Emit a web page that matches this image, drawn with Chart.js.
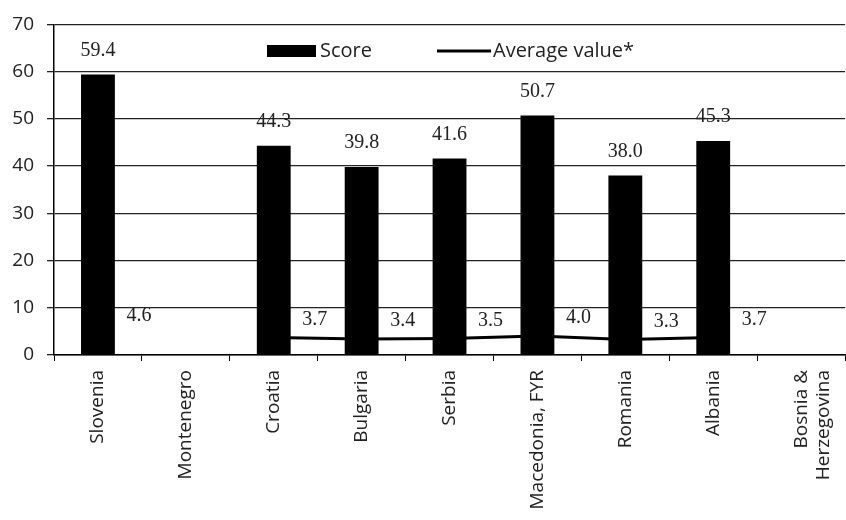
<!DOCTYPE html>
<html>
<head>
<meta charset="utf-8">
<script src="https://cdn.jsdelivr.net/npm/chart.js@4/dist/chart.umd.min.js"></script>
<style>
  html, body { margin: 0; padding: 0; background: #fff; }
  #wrap { width: 846px; height: 520px; overflow: hidden; position: relative; }
  #box { width: 856px; height: 520px; }
</style>
</head>
<body>
<div id="wrap"><div id="box"><canvas id="c"></canvas></div></div>
<script>
// Categories along the x axis
const countries = ['Slovenia', 'Montenegro', 'Croatia', 'Bulgaria', 'Serbia',
  'Macedonia, FYR', 'Romania', 'Albania', ['Bosnia &', 'Herzegovina']];
// Score per country (no bar where there is no score)
const scores = [59.4, null, 44.3, 39.8, 41.6, 50.7, 38.0, 45.3, null];
// Average value per country
const averages = [4.6, null, 3.7, 3.4, 3.5, 4.0, 3.3, 3.7, null];
// Y axis range
const yTicks = [0, 10, 20, 30, 40, 50, 60, 70];

const serifFont = '20px "Liberation Serif", "Times New Roman", serif';
const sansFamily = '"Open Sans", "Liberation Sans", sans-serif';

// Value labels: above bars, and to the upper right of line points
const valueLabels = {
  id: 'valueLabels',
  afterDatasetsDraw(chart) {
    const ctx = chart.ctx;
    ctx.save();
    ctx.font = serifFont;
    ctx.fillStyle = '#222';
    ctx.textAlign = 'center';
    ctx.textBaseline = 'middle';
    chart.data.datasets.forEach((ds, i) => {
      const meta = chart.getDatasetMeta(i);
      meta.data.forEach((el, j) => {
        const v = ds.data[j];
        if (v === null || v === undefined) return;
        const txt = v.toFixed(1);
        if (ds.type === 'bar') {
          ctx.fillText(txt, el.x, el.y - 24);
        } else {
          ctx.fillText(txt, el.x + 41, el.y - 18);
        }
      });
    });
    ctx.restore();
  }
};

// Legend drawn inside the top of the plot area
const innerLegend = {
  id: 'innerLegend',
  afterDraw(chart) {
    const ctx = chart.ctx;
    const ds = chart.data.datasets;
    const y = 51;
    ctx.save();
    ctx.font = '20px ' + sansFamily;
    ctx.textBaseline = 'middle';
    ctx.textAlign = 'left';
    // bar entry
    ctx.fillStyle = '#000';
    ctx.fillRect(267, y - 6, 49, 12);
    ctx.fillStyle = '#222';
    ctx.fillText(ds[0].label, 320, y);
    // line entry
    ctx.strokeStyle = '#000';
    ctx.lineWidth = 3;
    ctx.beginPath();
    ctx.moveTo(437, y);
    ctx.lineTo(491, y);
    ctx.stroke();
    ctx.fillText(ds[1].label, 493, y);
    ctx.restore();
  }
};

new Chart(document.getElementById('c'), {
  data: {
    labels: countries,
    datasets: [
      {
        type: 'bar',
        label: 'Score',
        data: scores,
        backgroundColor: '#000',
        borderWidth: 0,
        barPercentage: 0.385,
        categoryPercentage: 1.0,
        order: 0
      },
      {
        type: 'line',
        label: 'Average value*',
        data: averages,
        borderColor: '#000',
        borderWidth: 3,
        pointRadius: 0,
        tension: 0,
        spanGaps: false,
        order: 1
      }
    ]
  },
  options: {
    responsive: true,
    maintainAspectRatio: false,
    animation: false,
    layout: { padding: { top: 17, right: 5, left: 0, bottom: 0 } },
    plugins: {
      legend: { display: false },
      tooltip: { enabled: false }
    },
    scales: {
      x: {
        offset: true,
        grid: {
          offset: true,
          drawOnChartArea: false,
          drawTicks: true,
          tickLength: 6,
          color: '#000',
          lineWidth: 1
        },
        border: { display: true, color: '#000', width: 1.5 },
        ticks: {
          autoSkip: false,
          maxRotation: 90,
          minRotation: 90,
          padding: 9,
          color: '#222',
          font: { family: sansFamily, size: 19 }
        },
        afterFit(scale) { scale.height = 165; }
      },
      y: {
        min: yTicks[0],
        max: yTicks[yTicks.length - 1],
        afterBuildTicks(scale) { scale.ticks = yTicks.map(v => ({ value: v })); },
        grid: {
          color: '#222',
          lineWidth: 1.3,
          tickLength: 7,
          drawTicks: true
        },
        border: { display: true, color: '#000', width: 1.5 },
        ticks: {
          padding: 13,
          color: '#222',
          font: { family: sansFamily, size: 19 }
        },
        afterFit(scale) { scale.width = 54; }
      }
    }
  },
  plugins: [valueLabels, innerLegend]
});
</script>
</body>
</html>
